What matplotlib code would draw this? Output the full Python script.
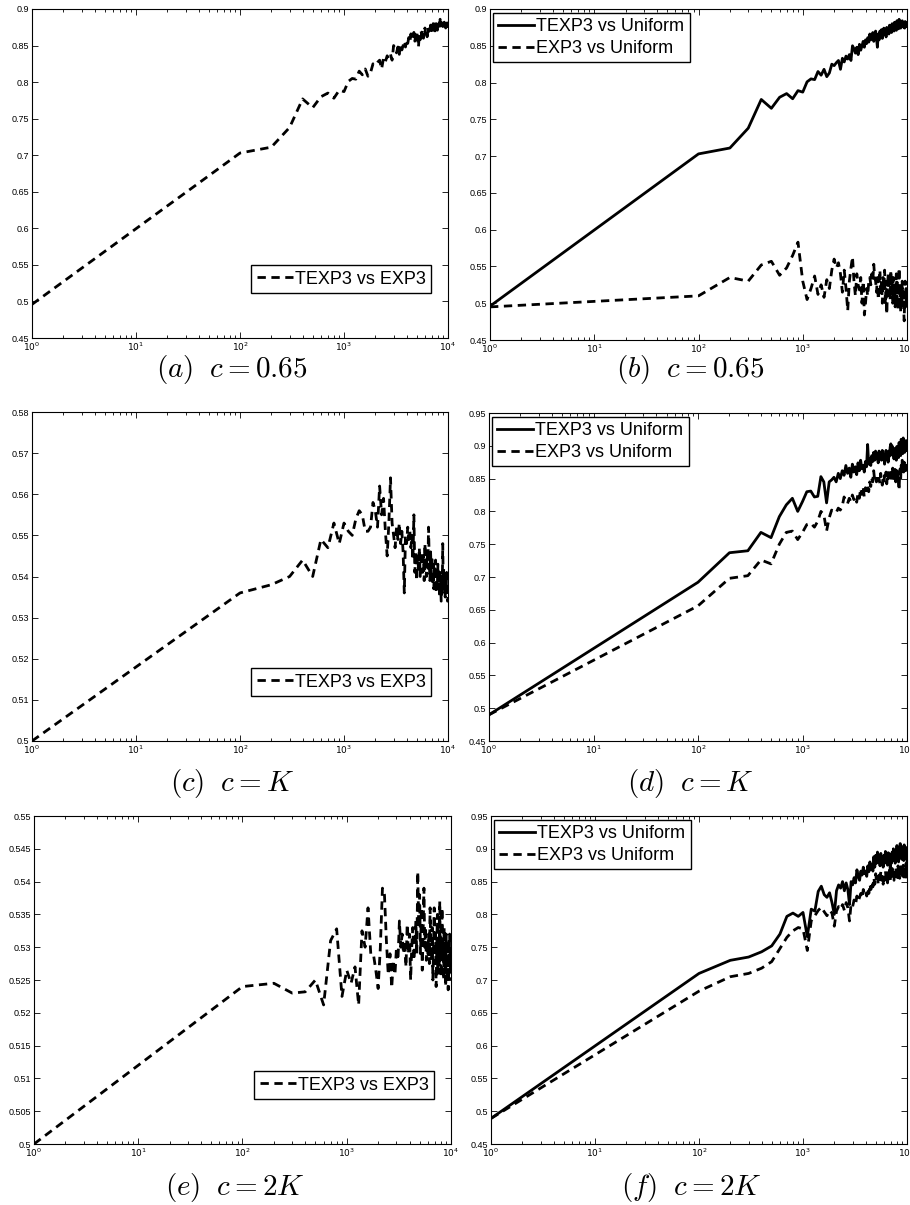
import matplotlib
matplotlib.use("Agg")
import matplotlib.pyplot as plt
from matplotlib.ticker import FixedLocator, FixedFormatter, LogLocator, NullFormatter

plt.rcParams['font.family'] = ['Liberation Sans', 'DejaVu Sans']
plt.rcParams['mathtext.fontset'] = 'dejavusans'

# ---------------- data ----------------
steps = [1] + list(range(100, 10001, 100))

texp3_vs_unif_c065 = [
    0.496, 0.703, 0.711, 0.738, 0.777, 0.765, 0.780, 0.785, 0.778, 0.789, 0.787,
    0.801, 0.805, 0.804, 0.815, 0.810, 0.818, 0.808, 0.813, 0.825, 0.823,
    0.827, 0.830, 0.818, 0.833, 0.828, 0.836, 0.832, 0.838, 0.830, 0.850,
    0.846, 0.840, 0.848, 0.838, 0.852, 0.844, 0.850, 0.856, 0.848, 0.858,
    0.853, 0.861, 0.855, 0.866, 0.858, 0.862, 0.868, 0.856, 0.864, 0.870,
    0.860, 0.848, 0.866, 0.858, 0.870, 0.864, 0.872, 0.860, 0.868, 0.874,
    0.866, 0.871, 0.862, 0.875, 0.869, 0.873, 0.866, 0.878, 0.870, 0.876,
    0.868, 0.880, 0.872, 0.877, 0.870, 0.882, 0.874, 0.879, 0.871, 0.884,
    0.876, 0.881, 0.873, 0.886, 0.877, 0.882, 0.874, 0.880, 0.876, 0.884,
    0.877, 0.882, 0.875, 0.880, 0.874, 0.883, 0.877, 0.881, 0.876, 0.880,
]
texp3_vs_exp3_c065 = list(texp3_vs_unif_c065)

exp3_vs_unif_c065 = [
    0.495, 0.510, 0.535, 0.530, 0.552, 0.557, 0.538, 0.548, 0.565, 0.583, 0.530,
    0.505, 0.520, 0.537, 0.512, 0.525, 0.508, 0.532, 0.520, 0.545, 0.560,
    0.548, 0.555, 0.540, 0.515, 0.545, 0.520, 0.490, 0.530, 0.548, 0.563,
    0.530, 0.510, 0.540, 0.525, 0.518, 0.535, 0.500, 0.530, 0.484, 0.500,
    0.520, 0.510, 0.530, 0.535, 0.525, 0.540, 0.530, 0.553, 0.535, 0.530,
    0.515, 0.535, 0.505, 0.528, 0.545, 0.512, 0.530, 0.500, 0.535, 0.520,
    0.545, 0.498, 0.530, 0.485, 0.520, 0.540, 0.510, 0.530, 0.505, 0.545,
    0.515, 0.528, 0.500, 0.535, 0.510, 0.525, 0.495, 0.520, 0.540, 0.505,
    0.530, 0.490, 0.515, 0.548, 0.500, 0.525, 0.488, 0.520, 0.495, 0.530,
    0.505, 0.515, 0.490, 0.476, 0.510, 0.530, 0.495, 0.520, 0.500, 0.515,
]

texp3_vs_exp3_cK = [
    0.500, 0.536, 0.538, 0.540, 0.544, 0.540, 0.549, 0.547, 0.553, 0.548, 0.553,
    0.551, 0.550, 0.554, 0.556, 0.555, 0.551, 0.551, 0.552, 0.558, 0.556,
    0.552, 0.562, 0.555, 0.559, 0.551, 0.545, 0.553, 0.564, 0.553, 0.550,
    0.547, 0.552, 0.549, 0.553, 0.548, 0.551, 0.546, 0.536, 0.550, 0.548,
    0.552, 0.549, 0.551, 0.547, 0.550, 0.544, 0.555, 0.541, 0.546, 0.539,
    0.545, 0.542, 0.547, 0.540, 0.544, 0.546, 0.541, 0.545, 0.539, 0.548,
    0.543, 0.540, 0.546, 0.542, 0.552, 0.544, 0.539, 0.546, 0.541, 0.545,
    0.538, 0.543, 0.537, 0.542, 0.540, 0.544, 0.536, 0.541, 0.538, 0.543,
    0.537, 0.540, 0.535, 0.541, 0.538, 0.534, 0.540, 0.536, 0.548, 0.539,
    0.542, 0.537, 0.540, 0.535, 0.539, 0.536, 0.541, 0.537, 0.534, 0.535,
]

texp3_vs_unif_cK = [
    0.490, 0.692, 0.737, 0.740, 0.768, 0.760, 0.792, 0.810, 0.820, 0.800, 0.815,
    0.830, 0.831, 0.822, 0.823, 0.853, 0.845, 0.813, 0.845, 0.848, 0.852,
    0.845, 0.858, 0.850, 0.862, 0.855, 0.870, 0.858, 0.866, 0.852, 0.872,
    0.860, 0.868, 0.856, 0.874, 0.862, 0.878, 0.865, 0.870, 0.860, 0.876,
    0.868, 0.902, 0.872, 0.880, 0.870, 0.885, 0.876, 0.890, 0.878, 0.892,
    0.880, 0.888, 0.874, 0.892, 0.882, 0.890, 0.878, 0.893, 0.880, 0.887,
    0.872, 0.886, 0.893, 0.879, 0.888, 0.875, 0.892, 0.884, 0.898, 0.903,
    0.890, 0.900, 0.885, 0.895, 0.880, 0.896, 0.886, 0.893, 0.878, 0.899,
    0.887, 0.895, 0.882, 0.905, 0.890, 0.898, 0.885, 0.910, 0.893, 0.903,
    0.888, 0.912, 0.895, 0.905, 0.890, 0.902, 0.893, 0.908, 0.896, 0.893,
]

exp3_vs_unif_cK = [
    0.490, 0.656, 0.698, 0.702, 0.726, 0.720, 0.750, 0.768, 0.770, 0.757, 0.768,
    0.780, 0.782, 0.776, 0.785, 0.800, 0.795, 0.770, 0.790, 0.802, 0.800,
    0.798, 0.805, 0.802, 0.808, 0.822, 0.816, 0.812, 0.820, 0.815, 0.825,
    0.818, 0.822, 0.814, 0.828, 0.820, 0.835, 0.826, 0.838, 0.822, 0.836,
    0.832, 0.840, 0.830, 0.845, 0.838, 0.850, 0.845, 0.862, 0.848, 0.852,
    0.845, 0.856, 0.848, 0.850, 0.843, 0.858, 0.848, 0.840, 0.852, 0.846,
    0.855, 0.848, 0.860, 0.842, 0.855, 0.850, 0.863, 0.852, 0.858, 0.848,
    0.862, 0.855, 0.866, 0.850, 0.860, 0.853, 0.864, 0.845, 0.858, 0.862,
    0.848, 0.860, 0.842, 0.832, 0.855, 0.865, 0.850, 0.870, 0.858, 0.878,
    0.862, 0.872, 0.860, 0.875, 0.865, 0.870, 0.862, 0.876, 0.866, 0.865,
]

texp3_vs_exp3_c2K = [
    0.5000, 0.5240, 0.5245, 0.5230, 0.5232, 0.5250, 0.5212, 0.5310, 0.5328, 0.5225, 0.5265,
    0.5245, 0.5270, 0.5212, 0.5325, 0.5300, 0.5360, 0.5290, 0.5290, 0.5265, 0.5237,
    0.5300, 0.5390, 0.5380, 0.5310, 0.5258, 0.5290, 0.5238, 0.5280, 0.5258, 0.5300,
    0.5280, 0.5340, 0.5300, 0.5320, 0.5290, 0.5310, 0.5270, 0.5335, 0.5290, 0.5320,
    0.5250, 0.5300, 0.5330, 0.5280, 0.5300, 0.5340, 0.5290, 0.5415, 0.5330, 0.5380,
    0.5290, 0.5360, 0.5265, 0.5320, 0.5390, 0.5300, 0.5330, 0.5280, 0.5310, 0.5290,
    0.5320, 0.5275, 0.5360, 0.5300, 0.5280, 0.5330, 0.5250, 0.5300, 0.5360, 0.5275,
    0.5320, 0.5240, 0.5300, 0.5350, 0.5270, 0.5310, 0.5260, 0.5370, 0.5290, 0.5320,
    0.5255, 0.5360, 0.5280, 0.5310, 0.5250, 0.5330, 0.5270, 0.5300, 0.5240, 0.5320,
    0.5260, 0.5310, 0.5280, 0.5235, 0.5300, 0.5260, 0.5320, 0.5270, 0.5300, 0.5250,
]

texp3_vs_unif_c2K = [
    0.489, 0.710, 0.730, 0.735, 0.743, 0.752, 0.770, 0.797, 0.802, 0.797, 0.803,
    0.766, 0.808, 0.805, 0.835, 0.843, 0.830, 0.826, 0.833, 0.818, 0.800,
    0.836, 0.845, 0.840, 0.850, 0.836, 0.848, 0.838, 0.815, 0.850, 0.845,
    0.856, 0.848, 0.868, 0.858, 0.852, 0.866, 0.860, 0.872, 0.862, 0.866,
    0.858, 0.874, 0.865, 0.880, 0.868, 0.876, 0.866, 0.888, 0.872, 0.890,
    0.878, 0.895, 0.880, 0.887, 0.874, 0.893, 0.880, 0.888, 0.872, 0.890,
    0.878, 0.896, 0.882, 0.888, 0.875, 0.894, 0.880, 0.892, 0.870, 0.888,
    0.878, 0.895, 0.882, 0.900, 0.884, 0.892, 0.878, 0.898, 0.885, 0.905,
    0.888, 0.896, 0.880, 0.902, 0.888, 0.908, 0.890, 0.898, 0.884, 0.903,
    0.889, 0.897, 0.882, 0.906, 0.890, 0.898, 0.885, 0.902, 0.890, 0.880,
]

exp3_vs_unif_c2K = [
    0.489, 0.683, 0.705, 0.710, 0.718, 0.728, 0.748, 0.765, 0.775, 0.780, 0.778,
    0.745, 0.790, 0.798, 0.806, 0.811, 0.804, 0.798, 0.806, 0.802, 0.782,
    0.805, 0.812, 0.808, 0.815, 0.806, 0.818, 0.810, 0.790, 0.816, 0.812,
    0.822, 0.815, 0.828, 0.820, 0.826, 0.832, 0.825, 0.838, 0.830, 0.834,
    0.828, 0.840, 0.832, 0.846, 0.838, 0.850, 0.842, 0.856, 0.846, 0.862,
    0.850, 0.858, 0.845, 0.860, 0.850, 0.865, 0.852, 0.858, 0.846, 0.862,
    0.852, 0.866, 0.855, 0.860, 0.848, 0.864, 0.854, 0.868, 0.852, 0.862,
    0.855, 0.870, 0.858, 0.865, 0.852, 0.868, 0.858, 0.872, 0.860, 0.866,
    0.856, 0.874, 0.862, 0.868, 0.855, 0.872, 0.860, 0.876, 0.862, 0.870,
    0.858, 0.875, 0.864, 0.870, 0.852, 0.872, 0.860, 0.878, 0.866, 0.855,
]

xtick_vals = [1, 10, 100, 1000, 10000]
xtick_labels = [r'$10^{0}$', r'$10^{1}$', r'$10^{2}$', r'$10^{3}$', r'$10^{4}$']

yticks_065 = [0.45, 0.5, 0.55, 0.6, 0.65, 0.7, 0.75, 0.8, 0.85, 0.9]
yticks_cK_left = [0.5, 0.51, 0.52, 0.53, 0.54, 0.55, 0.56, 0.57, 0.58]
yticks_right = [0.45, 0.5, 0.55, 0.6, 0.65, 0.7, 0.75, 0.8, 0.85, 0.9, 0.95]
yticks_c2K_left = [0.5, 0.505, 0.51, 0.515, 0.52, 0.525, 0.53, 0.535, 0.54, 0.545, 0.55]

captions = [r'$(a)\ \;c = 0.65$', r'$(b)\ \;c = 0.65$',
            r'$(c)\ \;c = K$', r'$(d)\ \;c = K$',
            r'$(e)\ \;c = 2K$', r'$(f)\ \;c = 2K$']

# ---------------- figure ----------------
W, H = 910, 1205
fig = plt.figure(figsize=(W / 100, H / 100), dpi=100)

def make_ax(l, r, t, b):
    return fig.add_axes([l / W, 1 - b / H, (r - l) / W, (b - t) / H])

boxes = [
    (32, 448, 9, 338), (490, 907, 9, 340),
    (32, 448, 412, 741), (489, 907, 413, 741),
    (34, 451, 816, 1144), (491, 907, 816, 1144),
]
axes = [make_ax(*bx) for bx in boxes]

DASH = (3, 2)
LW = 2.0

def style(ax, yticks):
    ax.set_xscale('log')
    ax.set_xlim(1, 10000)
    ax.set_ylim(yticks[0], yticks[-1])
    ax.xaxis.set_major_locator(FixedLocator(xtick_vals))
    ax.xaxis.set_major_formatter(FixedFormatter(xtick_labels))
    ax.xaxis.set_minor_locator(LogLocator(base=10, subs=range(2, 10)))
    ax.xaxis.set_minor_formatter(NullFormatter())
    ax.set_yticks(yticks)
    ax.set_yticklabels(['%g' % v for v in yticks])
    ax.tick_params(which='both', direction='in', top=True, right=True,
                   labelsize=6.5, width=0.6, pad=2)
    ax.tick_params(which='major', length=4)
    ax.tick_params(which='minor', length=2)
    for s in ax.spines.values():
        s.set_linewidth(0.8)

def legend(ax, loc, anchor):
    lg = ax.legend(loc=loc, bbox_to_anchor=anchor, borderaxespad=0,
                   fontsize=13, frameon=True, fancybox=False,
                   edgecolor='black', framealpha=1, borderpad=0.3,
                   handlelength=2.0, handletextpad=0.1, labelspacing=0.25)
    lg.get_frame().set_linewidth(1.0)

# (a)
ax = axes[0]
ax.plot(steps, texp3_vs_exp3_c065, color='black', lw=LW, dashes=DASH, label='TEXP3 vs EXP3')
style(ax, yticks_065)
legend(ax, 'lower right', (0.959, 0.137))

# (b)
ax = axes[1]
ax.plot(steps, texp3_vs_unif_c065, color='black', lw=LW, label='TEXP3 vs Uniform')
ax.plot(steps, exp3_vs_unif_c065, color='black', lw=LW, dashes=DASH, label='EXP3 vs Uniform')
style(ax, yticks_065)
legend(ax, 'upper left', (0.007, 0.988))

# (c)
ax = axes[2]
ax.plot(steps, texp3_vs_exp3_cK, color='black', lw=LW, dashes=DASH, label='TEXP3 vs EXP3')
style(ax, yticks_cK_left)
legend(ax, 'lower right', (0.959, 0.137))

# (d)
ax = axes[3]
ax.plot(steps, texp3_vs_unif_cK, color='black', lw=LW, label='TEXP3 vs Uniform')
ax.plot(steps, exp3_vs_unif_cK, color='black', lw=LW, dashes=DASH, label='EXP3 vs Uniform')
style(ax, yticks_right)
legend(ax, 'upper left', (0.007, 0.988))

# (e)
ax = axes[4]
ax.plot(steps, texp3_vs_exp3_c2K, color='black', lw=LW, dashes=DASH, label='TEXP3 vs EXP3')
style(ax, yticks_c2K_left)
legend(ax, 'lower right', (0.959, 0.137))

# (f)
ax = axes[5]
ax.plot(steps, texp3_vs_unif_c2K, color='black', lw=LW, label='TEXP3 vs Uniform')
ax.plot(steps, exp3_vs_unif_c2K, color='black', lw=LW, dashes=DASH, label='EXP3 vs Uniform')
style(ax, yticks_right)
legend(ax, 'upper left', (0.007, 0.988))

# captions
cap_y = [369, 369, 783, 783, 1187, 1187]
for (l, r, t, b), cap, cy in zip(boxes, captions, cap_y):
    fig.text(((l + r) / 2 - 8) / W, 1 - cy / H, cap, ha='center', va='center',
             fontsize=21, math_fontfamily='cm')

fig.savefig('out.png', dpi=100)
